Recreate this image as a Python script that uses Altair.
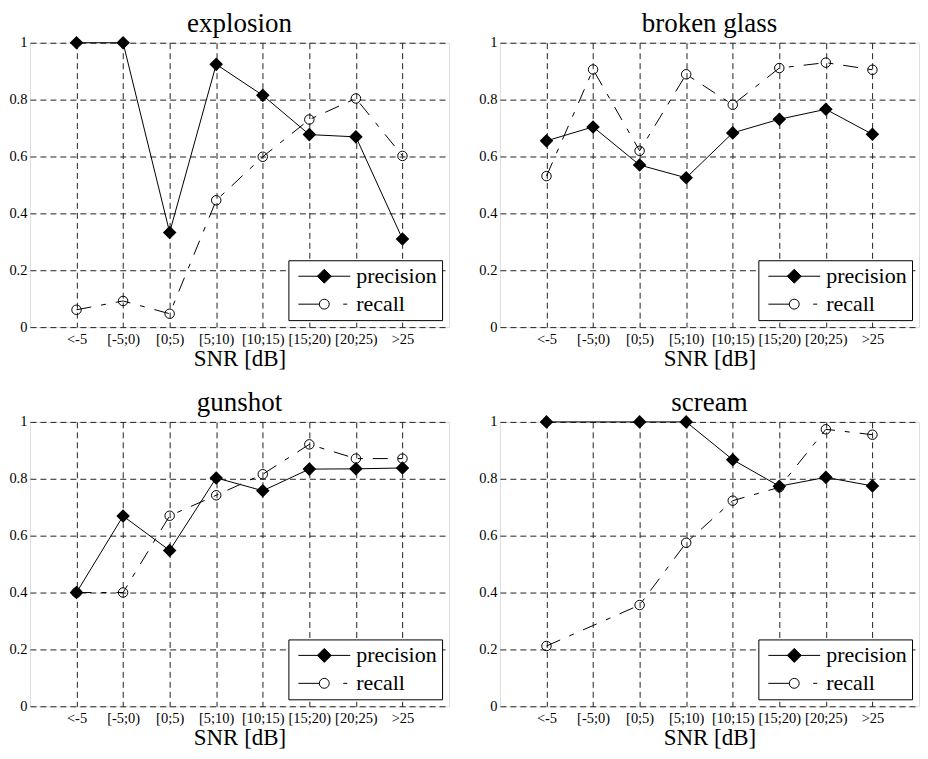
import altair as alt
import pandas as pd

categories = ["<-5", "[-5;0)", "[0;5)", "[5;10)", "[10;15)", "[15;20)", "[20;25)", ">25"]

explosion_precision = [1.0, 1.0, 0.333, 0.924, 0.815, 0.677, 0.669, 0.31]
explosion_recall = [0.061, 0.092, 0.047, 0.446, 0.599, 0.730, 0.804, 0.602]

glass_precision = [0.655, 0.704, 0.570, 0.525, 0.683, 0.731, 0.766, 0.678]
glass_recall = [0.531, 0.906, 0.620, 0.889, 0.782, 0.911, 0.930, 0.905]

gunshot_precision = [0.40, 0.669, 0.548, 0.803, 0.758, 0.834, 0.835, 0.838]
gunshot_recall = [0.40, 0.40, 0.670, 0.742, 0.816, 0.921, 0.871, 0.871]

scream_precision = [1.0, None, 1.0, 1.0, 0.867, 0.774, 0.805, 0.775]
scream_recall = [0.212, None, 0.356, 0.575, 0.723, 0.770, 0.974, 0.955]

panels = [
    ("explosion", explosion_precision, explosion_recall),
    ("broken glass", glass_precision, glass_recall),
    ("gunshot", gunshot_precision, gunshot_recall),
    ("scream", scream_precision, scream_recall),
]

y_ticks = [0, 0.2, 0.4, 0.6, 0.8, 1]
series_names = ["precision", "recall"]

FONT = "Liberation Serif"
W, H = 420, 285

# legend symbols: line sample + marker (custom paths)
PREC_PATH = "M-1,0L6.43,0M2.71,-1L3.71,0L2.71,1L1.71,0Z"
REC_PATH = ("M-1,0L2,0M3.42,0A0.71,0.71,0,1,1,2,0A0.71,0.71,0,1,1,3.42,0"
            "M5.42,0L6,0")

label_expr = "[" + ",".join("'%s'" % c for c in categories) + "][datum.value - 1]"


def make_panel(title, prec, rec):
    rows = []
    for i, c in enumerate(categories):
        if prec[i] is not None:
            rows.append({"idx": i + 1, "series": "precision", "value": prec[i]})
        if rec[i] is not None:
            rows.append({"idx": i + 1, "series": "recall", "value": rec[i]})
    df = pd.DataFrame(rows)

    x = alt.X(
        "idx:Q",
        scale=alt.Scale(domain=[0, 9], nice=False, zero=False),
        axis=alt.Axis(
            values=list(range(1, 9)),
            labelExpr=label_expr,
            title="SNR [dB]",
            grid=True,
            gridDash=[6, 4],
            gridColor="#222222",
            gridWidth=1,
            gridOpacity=1,
            domain=False,
            ticks=False,
            labelPadding=5,
            labelFont=FONT,
            labelFontSize=14.5,
            labelColor="black",
            labelFlush=False,
            titleFont=FONT,
            titleFontSize=23,
            titleFontWeight="normal",
            titleColor="black",
            titlePadding=2,
        ),
    )
    y = alt.Y(
        "value:Q",
        scale=alt.Scale(domain=[0, 1], nice=False),
        axis=alt.Axis(
            values=y_ticks,
            format="~g",
            title=None,
            grid=True,
            gridDash=[6, 4],
            gridColor="#222222",
            gridWidth=1,
            gridOpacity=1,
            domain=False,
            ticks=False,
            labelPadding=3,
            labelFont=FONT,
            labelFontSize=14.5,
            labelColor="black",
            labelFlush=False,
        ),
    )

    base = alt.Chart(df).encode(x=x, y=y)

    prec_line = base.transform_filter("datum.series == 'precision'").mark_line(
        color="black", strokeWidth=1
    )
    rec_line = base.transform_filter("datum.series == 'recall'").mark_line(
        color="black", strokeWidth=1, strokeDash=[15, 10, 5, 10]
    )
    prec_pts = base.transform_filter("datum.series == 'precision'").mark_point(
        shape="diamond", filled=True, color="black", size=185, opacity=1
    )
    rec_pts = base.transform_filter("datum.series == 'recall'").mark_point(
        shape="circle", filled=False, color="black", size=90, opacity=1, strokeWidth=1
    )

    leg = alt.Legend(
        title=None,
        orient="bottom-right",
        offset=7,
        padding=5,
        strokeColor="black",
        fillColor="white",
        symbolSize=196,
        symbolStrokeWidth=1,
        symbolOffset=1,
        labelFont=FONT,
        labelFontSize=22,
        labelColor="black",
        labelOffset=40,
        rowPadding=6,
        labelLimit=300,
    )
    legend_layer = base.transform_filter("false").mark_point(
        opacity=1, strokeWidth=1, filled=True
    ).encode(
        shape=alt.Shape(
            "series:N",
            scale=alt.Scale(domain=series_names, range=[PREC_PATH, REC_PATH]),
            legend=leg,
        ),
        fill=alt.Fill(
            "series:N",
            scale=alt.Scale(domain=series_names, range=["black", "white"]),
            legend=leg,
        ),
        stroke=alt.Stroke(
            "series:N",
            scale=alt.Scale(domain=series_names, range=["black", "black"]),
            legend=leg,
        ),
    )

    return alt.layer(prec_line, rec_line, prec_pts, rec_pts, legend_layer).properties(
        width=W,
        height=H,
        title=alt.TitleParams(
            title,
            font=FONT,
            fontSize=27,
            fontWeight="normal",
            color="black",
            anchor="middle",
            offset=-3,
        ),
    )


charts = [make_panel(*p) for p in panels]

chart = (
    alt.concat(*charts, columns=2, spacing={"row": 17, "column": 28})
    .resolve_scale(shape="independent", fill="independent", stroke="independent")
    .resolve_legend(shape="independent", fill="independent", stroke="independent")
    .properties(padding=0)
    .configure_view(stroke="black", strokeWidth=1.4)
    .configure(background="white")
)

chart.save("out.html", embed_options={"renderer": "svg", "actions": False})
